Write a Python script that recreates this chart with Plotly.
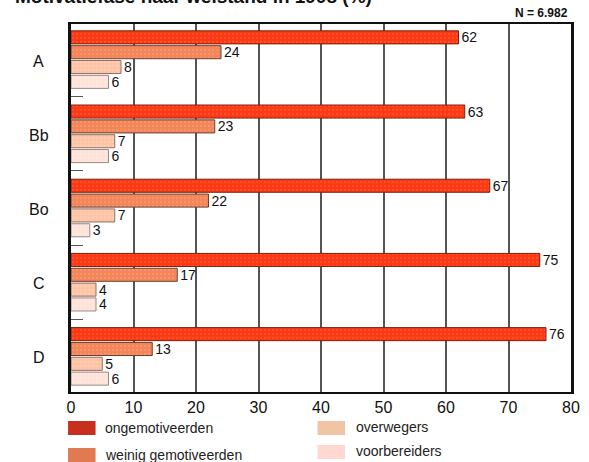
import plotly.graph_objects as go

categories = ["A", "Bb", "Bo", "C", "D"]
series_names = ["ongemotiveerden", "weinig gemotiveerden", "overwegers", "voorbereiders"]
ongemotiveerden = [62, 63, 67, 75, 76]
weinig_gemotiveerden = [24, 23, 22, 17, 13]
overwegers = [8, 7, 7, 4, 5]
voorbereiders = [6, 6, 3, 4, 6]
x_ticks = [0, 10, 20, 30, 40, 50, 60, 70, 80]
title_text = "Motivatiefase naar welstand in 1998 (%)"
n_text = "N = 6.982"

series = [ongemotiveerden, weinig_gemotiveerden, overwegers, voorbereiders]
bar_colors = ["#FF3814", "#F4855A", "#FFC4A6", "#FFE2D8"]
pat_colors = ["#FF6A40", "#F9A37E", "#FFD8C4", "#FFF0EA"]
line_colors = ["#7A2010", "#6A4030", "#8A7068", "#9A8A86"]
legend_colors = ["#C8301E", "#E07A50", "#F0C4A4", "#FFD8D2"]

W, H = 589, 462
L, R, T, B = 71, 9, 24, 70
pw, ph = W - L - R, H - T - B


def px_x(x):
    return (x - L) / pw


def px_y(y):
    return (H - B - y) / ph


fig = go.Figure()
slot = 5
for j, (name, vals) in enumerate(zip(series_names, series)):
    fig.add_trace(go.Bar(
        name=name,
        orientation="h",
        x=vals,
        y=[g * slot + j for g in range(len(categories))],
        width=0.88,
        marker=dict(color=bar_colors[j],
                    line=dict(color=line_colors[j], width=1),
                    pattern=dict(shape=".", size=4, solidity=0.25,
                                 fgcolor=pat_colors[j], bgcolor=bar_colors[j])),
        text=[str(v) for v in vals],
        textposition="outside",
        constraintext="none",
        textfont=dict(size=14, color="#111", family="Liberation Sans, Arial"),
        cliponaxis=False,
        showlegend=False,
        hoverinfo="skip",
    ))

annotations = []
for g, cat in enumerate(categories):
    annotations.append(dict(text=cat, xref="paper", yref="y", x=px_x(38), y=g * slot + 1.6,
                            xanchor="center", yanchor="middle", showarrow=False,
                            font=dict(size=16, color="#111", family="Liberation Sans, Arial")))

annotations.append(dict(text="<b>%s</b>" % title_text, xref="paper", yref="paper",
                        x=px_x(12), y=px_y(9), xanchor="left", yanchor="bottom",
                        showarrow=False,
                        font=dict(size=19, color="#111", family="Liberation Sans, Arial")))
annotations.append(dict(text="<b>%s</b>" % n_text, xref="paper", yref="paper",
                        x=px_x(579), y=px_y(13), xanchor="right", yanchor="middle",
                        showarrow=False,
                        font=dict(size=12, color="#111", family="Liberation Sans, Arial")))

shapes = []
legend_pos = [(68, 421, 104, 428), (68, 448, 104, 455), (322, 421, 359, 427), (322, 445, 359, 451)]
for j, name in enumerate(series_names):
    sx, sy, tx, ty = legend_pos[j]
    shapes.append(dict(type="rect", xref="paper", yref="paper",
                       x0=px_x(sx), x1=px_x(sx + 28), y0=px_y(sy), y1=px_y(sy + 14),
                       fillcolor=legend_colors[j], line=dict(width=0)))
    annotations.append(dict(text=name, xref="paper", yref="paper", x=px_x(tx), y=px_y(ty),
                            xanchor="left", yanchor="middle", showarrow=False,
                            font=dict(size=14, color="#222", family="Liberation Sans, Arial")))

fig.update_layout(
    width=W, height=H,
    margin=dict(l=L, r=R, t=T, b=B),
    paper_bgcolor="white", plot_bgcolor="white",
    barmode="overlay",
    annotations=annotations,
    shapes=shapes,
    xaxis=dict(range=[0, 80], tickvals=x_ticks, ticktext=[str(v) for v in x_ticks],
               showgrid=True, gridcolor="#555", gridwidth=2, zeroline=False,
               showline=True, linecolor="#111", linewidth=2, mirror=True,
               ticks="", tickfont=dict(size=16, color="#111", family="Liberation Sans, Arial")),
    yaxis=dict(range=[23.9, -0.9], tickvals=[4, 9, 14, 19], ticks="inside", ticklen=12,
               tickcolor="#555", tickwidth=1, showticklabels=False, showgrid=False,
               zeroline=False, showline=True, linecolor="#111", linewidth=3, mirror=True),
)

fig.write_html("out.html",
               config={"displayModeBar": False},
               post_script="document.body.style.margin='0';document.body.style.overflow='hidden';")
